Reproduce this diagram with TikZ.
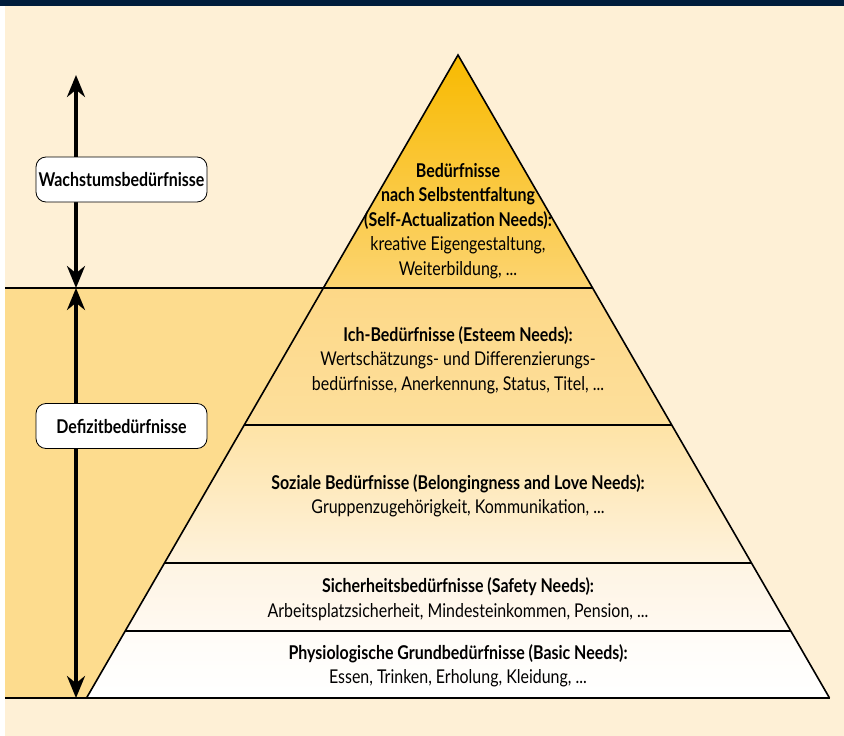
\documentclass[tikz,border=0pt]{standalone}
\usepackage{fontspec}
\setmainfont{Lato}[FakeStretch=0.84]
\usepackage{tikz}
\usetikzlibrary{arrows.meta,calc}

\definecolor{navy}{HTML}{001C3B}
\definecolor{creme}{HTML}{FEF0D6}
\definecolor{defizit}{HTML}{FDDC8E}
\definecolor{gipfelo}{HTML}{F8BA00}
\definecolor{gipfelu}{HTML}{FCD471}
\definecolor{icho}{HTML}{FDD887}
\definecolor{ichu}{HTML}{FDDF9C}
\definecolor{sozo}{HTML}{FEE3A6}
\definecolor{sozu}{HTML}{FEF2DC}
\definecolor{sicho}{HTML}{FEF4E3}
\definecolor{sichu}{HTML}{FFF9F1}
\definecolor{baso}{HTML}{FFFCF7}

\tikzset{
  stufe/.style={align=center,inner sep=0pt,font=\fontsize{19}{24.5}\selectfont},
  kasten/.style={draw,fill=white,line width=0.8pt,rounded corners=10pt,minimum width=171pt,minimum height=45pt,inner sep=2pt,font=\bfseries\fontsize{19}{20}\selectfont},
  pfeil/.style={line width=3.5pt,{Stealth[length=22pt,width=18pt]}-{Stealth[length=22pt,width=18pt]}},
  linie/.style={line width=1.6pt}
}

\begin{document}
\begin{tikzpicture}[x=1pt,y=-1pt]
  \useasboundingbox (0,0) rectangle (844,736);
  \fill[white] (0,0) rectangle (844,736);
  \fill[creme] (5,6) rectangle (844,736);
  \fill[navy] (0,0) rectangle (844,6);  % Kopfleiste

  \coordinate (spitze) at (458,55);
  \coordinate (links) at (86.5,698);
  \coordinate (rechts) at (829.5,698);
  \foreach \n/\t in {1/0.3624,2/0.5754,3/0.7900,4/0.8958}{
    \coordinate (l\n) at ($(spitze)!\t!(links)$);
    \coordinate (r\n) at ($(spitze)!\t!(rechts)$);
  }
  \coordinate (rand1) at (5,288);
  \coordinate (rand2) at (5,698);

  \fill[defizit] (rand1) -- (l1) -- (links) -- (rand2) -- cycle;  % Defizitbereich links

  % Pyramidenstufen
  \shade[top color=gipfelo,bottom color=gipfelu] (spitze) -- (r1) -- (l1) -- cycle;
  \shade[top color=icho,bottom color=ichu] (l1) -- (r1) -- (r2) -- (l2) -- cycle;
  \shade[top color=sozo,bottom color=sozu] (l2) -- (r2) -- (r3) -- (l3) -- cycle;
  \shade[top color=sicho,bottom color=sichu] (l3) -- (r3) -- (r4) -- (l4) -- cycle;
  \shade[top color=baso,bottom color=white] (l4) -- (r4) -- (rechts) -- (links) -- cycle;

  \draw[linie] (rand1) -- (r1);
  \draw[linie] (l2) -- (r2);
  \draw[linie] (l3) -- (r3);
  \draw[linie] (l4) -- (r4);
  \draw[linie] (rand2) -- (rechts);
  \draw[linie,line join=miter] (links) -- (spitze) -- (rechts);

  \node[stufe] (selbst) at (458,221) {\textbf{Bedürfnisse}\\\textbf{nach Selbstentfaltung}\\\textbf{(Self-Actualization Needs):}\\kreative Eigengestaltung,\\Weiterbildung, ...};
  \node[stufe] (ich) at (458,360) {\textbf{Ich-Bedürfnisse (Esteem Needs):}\\Wertschätzungs- und Differenzierungs-\\bedürfnisse, Anerkennung, Status, Titel, ...};
  \node[stufe] (sozial) at (458,496) {\textbf{Soziale Bedürfnisse (Belongingness and Love Needs):}\\Gruppenzugehörigkeit, Kommunikation, ...};
  \node[stufe] (sicher) at (458,599) {\textbf{Sicherheitsbedürfnisse (Safety Needs):}\\Arbeitsplatzsicherheit, Mindesteinkommen, Pension, ...};
  \node[stufe] (basis) at (458,666) {\textbf{Physiologische Grundbedürfnisse (Basic Needs):}\\Essen, Trinken, Erholung, Kleidung, ...};

  % Pfeile links
  \coordinate (oben) at (76,75);
  \coordinate (mitte) at (76,288);
  \coordinate (unten) at (76,698);
  \draw[pfeil] (oben) -- (mitte);
  \draw[pfeil] (mitte) -- (unten);
  \node[kasten] (wachstum) at (121.5,179.5) {Wachstumsbedürfnisse};
  \node[kasten] (defizitbox) at (121.5,426) {Defizitbedürfnisse};
\end{tikzpicture}
\end{document}
